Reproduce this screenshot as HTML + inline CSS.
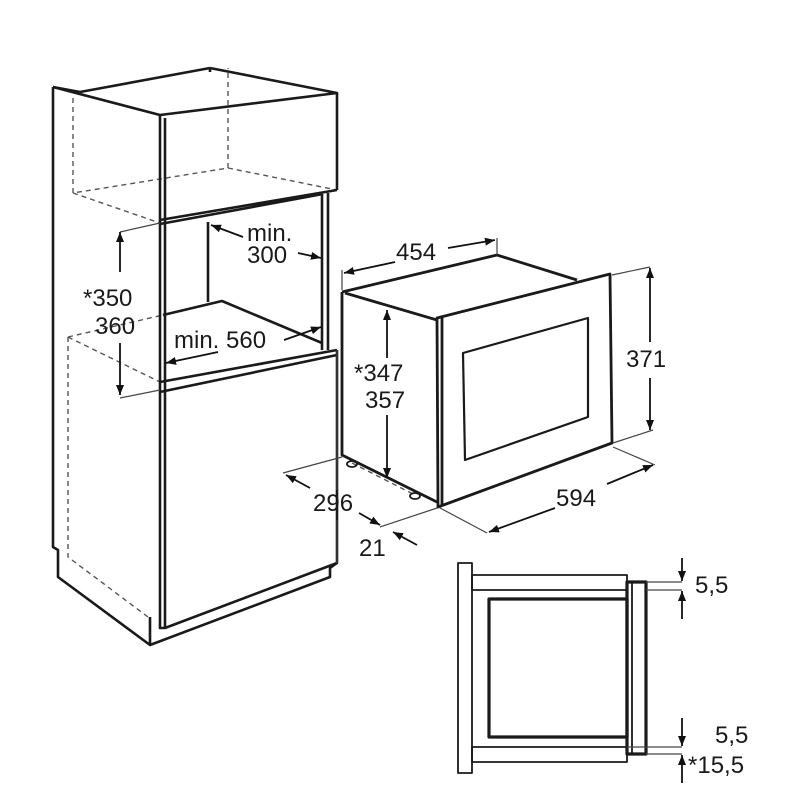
<!DOCTYPE html>
<html><head><meta charset="utf-8"><style>
html,body{margin:0;padding:0;background:#fff}
svg{display:block}
text{font-family:"Liberation Sans",Arial,sans-serif;fill:#1a1a1a}
</style></head><body>
<svg width="800" height="800" viewBox="0 0 800 800" xmlns="http://www.w3.org/2000/svg">
<defs>
<marker id="a" viewBox="0 0 10 10" refX="10" refY="5" markerWidth="10" markerHeight="10" markerUnits="userSpaceOnUse" orient="auto"><path d="M0,1 L10,5 L0,9 z" fill="#111"/></marker>
</defs>
<g fill="none" stroke="#1a1a1a" stroke-linejoin="round">
<g stroke-dasharray="5,4" stroke-width="1.4" stroke="#555">
<path d="M73,98 V193 L228,168 V68"/>
<path d="M73,193 L160,223"/>
<path d="M228,168 L337,190"/>
<path d="M68,337 V557 L148,617"/>
<path d="M68,337 L163,315"/>
<path d="M68,337 L160,382"/>
<path d="M352,463 L415,495"/>
</g>
<g stroke-width="2.6">
<path d="M53,87 L160,115 L337,93 L210,68"/>
<path d="M53,87 L80,92"/>
<path d="M210,68 L210,72 M337,93 V190"/>
<path d="M53,87 V547 L58,550 V577 L150,645 L330,577 V568 L337,563 V350"/>
<path d="M160,115 V393 M165,118 V628"/>
<path d="M160,220 L337,190 M160,224 L323,194"/>
<path d="M322,194 V350 M328,193 V350"/>
<path d="M208,222 V302"/>
<path d="M163,315 L222,301 L322,343"/>
<path d="M160,382 L337,350 M160,392 L337,355"/>
<path d="M160,393 V628 L165,628 L337,563"/>
<path d="M150,617 V645"/>
<path d="M80,92 L210,68"/>
</g>
<g stroke-width="2.8">
<path d="M342,292 L497,255 L577,280"/>
<path d="M342,292 V455 L437,502"/>
<path d="M345,293 L437,320"/>
<path d="M437,318 L610,274 L612,443 L438,507 Z"/>
<path d="M442,317 V505"/>
</g>
<path d="M463,353 L588,318 L588,417 L465,460 Z" stroke-width="2.2"/>
<ellipse cx="352" cy="464" rx="5" ry="3" stroke-width="1.8"/>
<ellipse cx="415" cy="496" rx="5" ry="3" stroke-width="1.8"/>
<g stroke-width="1.2" stroke="#444">
<path d="M120,232 L160,223 M120,398 L160,390"/>
<path d="M342,270 V290 M497,238 V255"/>
<path d="M612,275 L650,267 M613,443 L653,430"/>
<path d="M342,457 L283,473 M437,508 L380,527"/>
<path d="M440,508 L487,533 M613,447 L655,465"/>
<path d="M337,350 V490 M337,520 V563"/>
</g>
<g stroke-width="1.8" stroke="#111">
<path d="M120,272 V232" marker-end="url(#a)"/>
<path d="M120,343 V395" marker-end="url(#a)"/>
<path d="M243,237 L211,225" marker-end="url(#a)"/>
<path d="M298,253 L321,258" marker-end="url(#a)"/>
<path d="M218,352 L166,363" marker-end="url(#a)"/>
<path d="M284,340 L321,327" marker-end="url(#a)"/>
<path d="M395,262 L344,273" marker-end="url(#a)"/>
<path d="M448,248 L495,240" marker-end="url(#a)"/>
<path d="M650,342 V268" marker-end="url(#a)"/>
<path d="M650,378 V430" marker-end="url(#a)"/>
<path d="M387,358 V310" marker-end="url(#a)"/>
<path d="M387,415 V478" marker-end="url(#a)"/>
<path d="M310,488 L286,475" marker-end="url(#a)"/>
<path d="M359,513 L380,525" marker-end="url(#a)"/>
<path d="M417,545 L393,532" marker-end="url(#a)"/>
<path d="M555,508 L489,532" marker-end="url(#a)"/>
<path d="M607,484 L653,465" marker-end="url(#a)"/>
</g>
<g stroke-width="1.8">
<rect x="458" y="563" width="14" height="210"/>
<rect x="472" y="575" width="155" height="15"/>
<rect x="472" y="747" width="155" height="15"/>
<path d="M632,582 V754"/>
</g>
<rect x="489" y="599" width="138" height="138" stroke-width="3.2"/>
<rect x="627" y="582" width="19" height="172" stroke-width="3.2"/>
<g stroke-width="1.2" stroke="#444">
<path d="M646,582 H682 M646,590 H682 M627,747 H682 M646,754 H682"/>
</g>
<g stroke-width="1.8" stroke="#111">
<path d="M682,558 V581" marker-end="url(#a)"/>
<path d="M682,619 V591" marker-end="url(#a)"/>
<path d="M682,718 V746" marker-end="url(#a)"/>
<path d="M682,783 V755" marker-end="url(#a)"/>
</g>
</g>
<g font-size="24">
<text x="247" y="241">min.</text>
<text x="247" y="263">300</text>
<text x="83" y="306">*350</text>
<text x="95" y="334">360</text>
<text x="174" y="348">min. 560</text>
<text x="396" y="260">454</text>
<text x="626" y="367">371</text>
<text x="354" y="381">*347</text>
<text x="365" y="408">357</text>
<text x="313" y="511">296</text>
<text x="359" y="556">21</text>
<text x="556" y="506">594</text>
<text x="695" y="593">5,5</text>
<text x="715" y="743">5,5</text>
<text x="688" y="773">*15,5</text>
</g>
</svg>
</body></html>
